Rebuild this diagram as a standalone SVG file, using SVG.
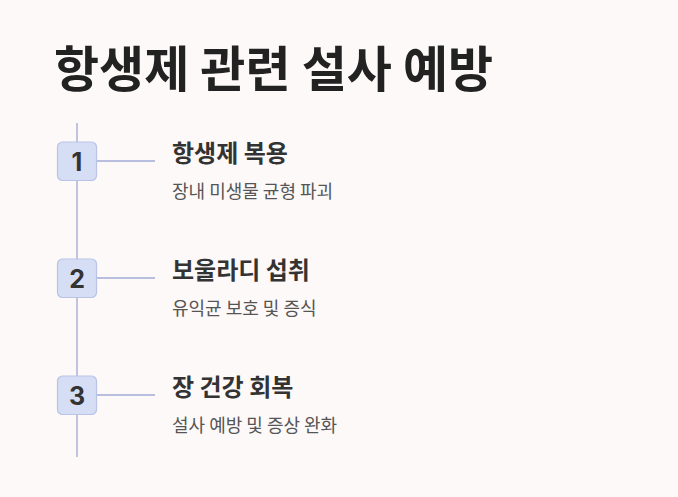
<svg xmlns="http://www.w3.org/2000/svg" width="678" height="497" viewBox="0 0 678 497">
<style>
.title{font-family:"Noto Sans CJK KR","Noto Sans",sans-serif;font-weight:700;font-size:49px;fill:#222222}
.head{font-family:"Noto Sans CJK KR","Noto Sans",sans-serif;font-weight:700;font-size:24px;fill:#333333}
.sub{font-family:"Noto Sans CJK KR","Noto Sans",sans-serif;font-weight:400;font-size:18px;fill:#555555}
.num{font-family:Inter,"Noto Sans",sans-serif;font-weight:700;font-size:25px;fill:#333333}
.box{fill:#D6DEF6;stroke:#B9C3E6;stroke-width:1.2}
.ln{stroke:#B8BFDE;stroke-width:1.8;fill:none}
</style>
<rect width="678" height="497" fill="#FDF9F8"/>
<text class="title" x="54" y="87">항생제 관련 설사 예방</text>
<g id="connectors">
<line class="ln" x1="77" y1="123" x2="77" y2="457"/>
<line class="ln" x1="96" y1="161" x2="155" y2="161"/>
<line class="ln" x1="96" y1="278" x2="155" y2="278"/>
<line class="ln" x1="96" y1="395" x2="155" y2="395"/>
</g>
<g id="step1">
<rect class="box" x="57.5" y="142" width="39" height="38.5" rx="5"/>
<text class="num" x="77" y="170.5" text-anchor="middle">1</text>
<text class="head" x="172" y="162">항생제 복용</text>
<text class="sub" x="172" y="198">장내 미생물 균형 파괴</text>
</g>
<g id="step2">
<rect class="box" x="57.5" y="259" width="39" height="38.5" rx="5"/>
<text class="num" x="77" y="287.5" text-anchor="middle">2</text>
<text class="head" x="172" y="279">보울라디 섭취</text>
<text class="sub" x="172" y="315">유익균 보호 및 증식</text>
</g>
<g id="step3">
<rect class="box" x="57.5" y="376" width="39" height="38.5" rx="5"/>
<text class="num" x="77" y="404.5" text-anchor="middle">3</text>
<text class="head" x="172" y="396">장 건강 회복</text>
<text class="sub" x="172" y="432">설사 예방 및 증상 완화</text>
</g>
</svg>
